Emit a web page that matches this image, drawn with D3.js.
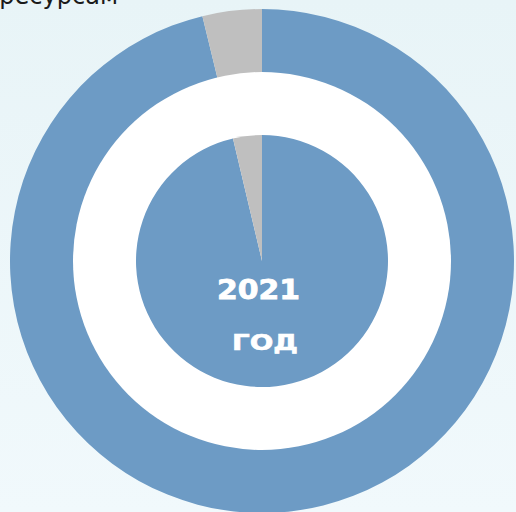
<!DOCTYPE html>
<html>
<head>
<meta charset="utf-8">
<script src="https://cdn.jsdelivr.net/npm/d3@7/dist/d3.min.js"></script>
<style>
  html, body { margin: 0; padding: 0; }
  body { width: 516px; height: 512px; overflow: hidden; }
</style>
</head>
<body>
<svg id="chart" width="516" height="512"></svg>
<script>
// Shares for 2021: outer ring and inner pie
const categories = ["Основная доля", "Прочее"];
const outerValues = [96.2, 3.8];
const innerValues = [96.3, 3.7];
const colors = ["#6D9BC5", "#BFBFBF"];
const titleText = "по ресурсам";
const yearLabel = "2021";
const yearSub = "ГОД";

const W = 516, H = 512;
const cx = 262, cy = 261;
const rOuter = 252, rHole = 189, rPie = 126;

const svg = d3.select("#chart");

// soft background
const defs = svg.append("defs");
const grad = defs.append("linearGradient").attr("id", "bg")
  .attr("x1", 0).attr("y1", 0).attr("x2", 0).attr("y2", 1);
grad.append("stop").attr("offset", "0%").attr("stop-color", "#E8F4F7");
grad.append("stop").attr("offset", "100%").attr("stop-color", "#F1F9FC");
svg.append("rect").attr("width", W).attr("height", H).attr("fill", "url(#bg)");

// heading, partly above the visible area
svg.append("text")
  .attr("x", 118).attr("y", 4)
  .attr("text-anchor", "end")
  .attr("font-family", "DejaVu Sans, sans-serif")
  .attr("font-size", 24)
  .attr("fill", "#1a1a1a")
  .text(titleText);

const color = d3.scaleOrdinal().domain(categories).range(colors);
const pie = d3.pie().sort(null).value(d => d.v);

const g = svg.append("g").attr("transform", `translate(${cx},${cy})`);

// outer ring
const outerArc = d3.arc().innerRadius(0).outerRadius(rOuter);
g.selectAll("path.outer")
  .data(pie(categories.map((c, i) => ({ c, v: outerValues[i] }))))
  .join("path")
  .attr("class", "outer")
  .attr("d", outerArc)
  .attr("fill", d => color(d.data.c));

// white hole
g.append("circle").attr("r", rHole).attr("fill", "#FFFFFF");

// inner pie
const innerArc = d3.arc().innerRadius(0).outerRadius(rPie);
g.selectAll("path.inner")
  .data(pie(categories.map((c, i) => ({ c, v: innerValues[i] }))))
  .join("path")
  .attr("class", "inner")
  .attr("d", innerArc)
  .attr("fill", d => color(d.data.c));

// centre labels
g.append("text")
  .attr("x", -45).attr("y", 38)
  .attr("font-family", "DejaVu Sans, sans-serif")
  .attr("font-weight", 700)
  .attr("font-size", 27)
  .attr("textLength", 83)
  .attr("lengthAdjust", "spacingAndGlyphs")
  .attr("fill", "#FFFFFF")
  .attr("stroke", "#FFFFFF")
  .attr("stroke-width", 0.8)
  .text(yearLabel);

g.append("text")
  .attr("x", -30).attr("y", 89)
  .attr("font-family", "DejaVu Sans, sans-serif")
  .attr("font-weight", 700)
  .attr("font-size", 21)
  .attr("textLength", 66)
  .attr("lengthAdjust", "spacingAndGlyphs")
  .attr("fill", "#FFFFFF")
  .attr("stroke", "#FFFFFF")
  .attr("stroke-width", 0.6)
  .text(yearSub);
</script>
</body>
</html>
